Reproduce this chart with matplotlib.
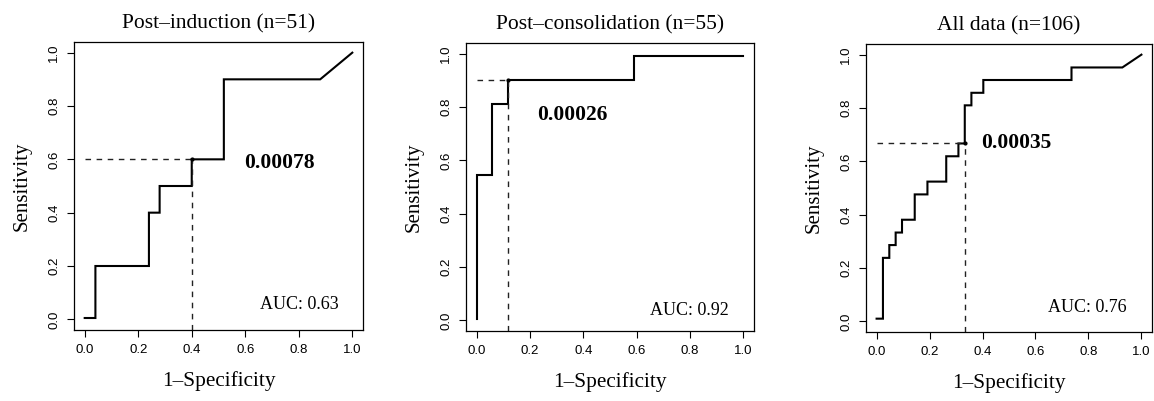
import matplotlib
matplotlib.use('Agg')
import matplotlib.pyplot as plt

# ROC curves (1-specificity, sensitivity)
titles = ['Post\u2013induction (n=51)', 'Post\u2013consolidation (n=55)', 'All data (n=106)']

fpr_induction = [0.0, 0.04, 0.04, 0.24, 0.24, 0.28, 0.28, 0.40, 0.40, 0.52, 0.52, 0.88, 1.0]
tpr_induction = [0.005, 0.005, 0.20, 0.20, 0.40, 0.40, 0.50, 0.50, 0.60, 0.60, 0.90, 0.90, 1.0]

fpr_consol = [0.0, 0.0, 0.059, 0.059, 0.117, 0.117, 0.589, 0.589, 1.0]
tpr_consol = [0.005, 0.545, 0.545, 0.81, 0.81, 0.90, 0.90, 0.99, 0.99]

fpr_all = [0.0, 0.024, 0.024, 0.048, 0.048, 0.072, 0.072, 0.096, 0.096, 0.144, 0.144,
           0.192, 0.192, 0.263, 0.263, 0.309, 0.309, 0.333, 0.333, 0.358, 0.358,
           0.403, 0.403, 0.736, 0.736, 0.928, 1.0]
tpr_all = [0.01, 0.01, 0.238, 0.238, 0.286, 0.286, 0.333, 0.333, 0.381, 0.381, 0.476,
           0.476, 0.524, 0.524, 0.619, 0.619, 0.667, 0.667, 0.810, 0.810, 0.857,
           0.857, 0.905, 0.905, 0.952, 0.952, 1.0]

# optimal cutoff points and their threshold labels
cut_x = [0.40, 0.117, 0.333]
cut_y = [0.60, 0.90, 0.667]
cut_labels = ['0.00078', '0.00026', '0.00035']
cut_label_pos = [(0.727, 0.588), (0.358, 0.769), (0.527, 0.668)]

auc_labels = ['AUC: 0.63', 'AUC: 0.92', 'AUC: 0.76']
auc_pos = [(0.803, 0.057), (0.799, 0.037), (0.795, 0.051)]

curves = [(fpr_induction, tpr_induction), (fpr_consol, tpr_consol), (fpr_all, tpr_all)]

# axes boxes in pixels: left, top, right, bottom
boxes = [(74, 42, 363, 330), (466, 43, 754, 331), (866, 44, 1152, 332)]

W, H = 1154, 401
fig = plt.figure(figsize=(W / 100, H / 100), dpi=100)

serif = 'Liberation Serif'
sans = 'Liberation Sans'
ticks = [0.0, 0.2, 0.4, 0.6, 0.8, 1.0]
tick_labels = ['0.0', '0.2', '0.4', '0.6', '0.8', '1.0']

for i in range(3):
    l, t, r, b = boxes[i]
    ax = fig.add_axes([l / W, (H - b) / H, (r - l) / W, (b - t) / H])
    ax.set_xlim(-0.04, 1.04)
    ax.set_ylim(-0.04, 1.04)

    fx, ty = curves[i]
    ax.plot(fx, ty, color='black', linewidth=1.5, solid_joinstyle='miter')

    # dashed guides to the cutoff point
    ax.plot([0.0, cut_x[i]], [cut_y[i], cut_y[i]], color='#222222', linewidth=1.0,
            linestyle=(0, (4, 4)))
    ax.plot([cut_x[i], cut_x[i]], [-0.04, cut_y[i]], color='#222222', linewidth=1.0,
            linestyle=(0, (4, 4)))
    ax.plot([cut_x[i]], [cut_y[i]], 'o', color='black', markersize=2)

    ax.text(cut_label_pos[i][0], cut_label_pos[i][1], cut_labels[i], ha='center', va='center',
            fontsize=15.5, fontweight='bold', family=serif)
    ax.text(auc_pos[i][0], auc_pos[i][1], auc_labels[i], ha='center', va='center',
            fontsize=13, family=serif)

    ax.set_xticks(ticks)
    ax.set_xticklabels(tick_labels, family=sans, fontsize=9.5)
    ax.set_yticks(ticks)
    ax.set_yticklabels(tick_labels, family=sans, fontsize=9.5, rotation=90, va='center')
    ax.tick_params(direction='out', length=5, width=0.8, pad=5)
    for s in ax.spines.values():
        s.set_linewidth(0.9)

    ax.set_title(titles[i], family=serif, fontsize=15.5, pad=10)
    ax.set_xlabel('1\u2013Specificity', family=serif, fontsize=15.3, labelpad=11)
    ax.set_ylabel('Sensitivity', family=serif, fontsize=15, labelpad=12)

plt.savefig('out.png', dpi=100)
